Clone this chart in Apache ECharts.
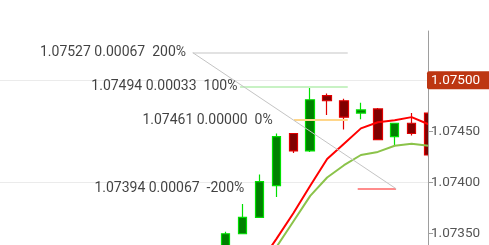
<!DOCTYPE html>
<html><head><meta charset="utf-8">
<script src="https://cdn.jsdelivr.net/npm/echarts@6/dist/echarts.min.js"></script>
<style>html,body{margin:0;padding:0;background:#fff}#c{width:489px;height:245px}</style>
</head><body><div id="c"></div>
<script>
// ---- data ----
const candleIdx = [0,1,2,3,4,5,6,7,8,9,10,11,12];
const opens  = [1.07330,1.07350,1.07366,1.07397,1.07448,1.07431,1.07485,1.07480,1.07468,1.07472,1.07445,1.07458,1.07468];
const closes = [1.07350,1.07366,1.07401,1.07445,1.07431,1.07481,1.07480,1.07464,1.07471,1.07442,1.07458,1.07448,1.07427];
const lows   = [1.07322,1.07350,1.07366,1.07386,1.07429,1.07430,1.07466,1.07452,1.07462,1.07442,1.07436,1.07446,1.07425];
const highs  = [1.07352,1.07379,1.07408,1.07448,1.07448,1.07494,1.07487,1.07482,1.07478,1.07473,1.07458,1.07468,1.07470];
const maFast = [1.07280,1.07300,1.07321,1.07345,1.07370,1.07397,1.07423,1.07438,1.07453,1.07459,1.07461,1.07464,1.07457];
const maSlow = [1.07270,1.07290,1.07312,1.07337,1.07362,1.07387,1.07405,1.07417,1.07427,1.07430,1.07436,1.07438,1.07436];
const yTickValues = [1.0735,1.0740,1.0745,1.0750];
const gridValues = [1.0740,1.0750];
const lastPrice = 1.07500;
const fibLevels = [1.07527,1.07494,1.07461,1.07394];
const fibDiffs  = ['0.00067','0.00033','0.00000','0.00067'];
const fibPcts   = ['200%','100%','0%','-200%'];
const fibStart = [-1.95, 1.07527];
const fibEnd   = [10.08, 1.07394];

// ---- layout / style ----
const W = 489, H = 245, GRID_RIGHT = 61, GRID_TOP = 31;
const X_MIN = -13.36, X_MAX = 11.97;
const Y_MIN = 1.07339, Y_MAX = 1.075482;
const fibSpans = [[-1.95,7.22],[0.85,7.22],[4.04,7.22],[7.81,10.08]];
const fibLabelX = [-2.35,0.69,2.78,1.10];
const fibColors = ['#d9d9d9','#c8f2c4','#ffd68a','#ff8c8c'];
const fibWidths = [1.5,2,2,2];
const GRID_COLOR = '#ebebeb';

const chart = echarts.init(document.getElementById('c'), null, {renderer:'canvas'});
const fmt = v => Number(v).toFixed(5);

const fibMarkData = fibLevels.map((lv,i)=>[
  {coord:[fibSpans[i][0], lv], lineStyle:{color:fibColors[i], width:fibWidths[i], type:'solid'}},
  {coord:[fibSpans[i][1], lv]}
]);
fibMarkData.push([
  {coord:fibStart, lineStyle:{color:'#c4c4c4', width:1, type:'solid'}},
  {coord:fibEnd}
]);

const gridMarkData = gridValues.map(v=>[
  {coord:[X_MIN, v], lineStyle:{color:GRID_COLOR,width:1,type:'solid'}, label:{show:false}},
  {coord:[X_MAX, v]}
]);
const priceMarkData = [[
  {coord:[X_MIN, lastPrice], lineStyle:{color:'transparent',width:1,type:'solid'},
   label:{show:true,position:'end',distance:-1,formatter:fmt(lastPrice),
     color:'#fff',fontSize:13.5,fontFamily:'Roboto',backgroundColor:'#bd3612',
     padding:[2,12,1,4],lineHeight:15,borderRadius:2}},
  {coord:[X_MAX, lastPrice]}
]];

chart.setOption({
  animation:false,
  backgroundColor:'#ffffff',
  textStyle:{fontFamily:'Roboto'},
  grid:{left:0,right:GRID_RIGHT,top:GRID_TOP,bottom:0,containLabel:false,outerBoundsMode:'none'},
  xAxis:{type:'value',min:X_MIN,max:X_MAX,show:false},
  yAxis:{
    type:'value',position:'right',min:Y_MIN,max:Y_MAX,scale:true,z:20,
    axisLine:{show:true,onZero:false,lineStyle:{color:'#9e9e9e',width:1}},
    axisTick:{show:true,length:5,customValues:yTickValues,lineStyle:{color:'#9e9e9e'}},
    axisLabel:{customValues:yTickValues,formatter:fmt,color:'#555',fontSize:13.5,fontFamily:'Roboto',margin:3},
    splitLine:{show:false}
  },
  graphic:[{
    type:'rect',silent:true,z:10,
    shape:{x:W-GRID_RIGHT,y:0,width:GRID_RIGHT,height:H},
    style:{fill:'#ffffff'}
  }],
  series:[
    {
      type:'line',data:[],z:1,silent:true,
      markLine:{z:1,silent:true,symbol:'none',animation:false,data:gridMarkData}
    },
    {
      type:'candlestick',z:2,
      data:candleIdx.map((x,i)=>[x,opens[i],closes[i],lows[i],highs[i]]),
      encode:{x:0,y:[1,2,3,4]},
      barWidth:9,
      itemStyle:{color:'#008000',color0:'#800000',borderColor:'#00e000',borderColor0:'#e00000',borderWidth:1.2}
    },
    {
      type:'line',z:3,showSymbol:false,symbol:'none',
      data:candleIdx.map((x,i)=>[x,maSlow[i]]),
      lineStyle:{color:'#8bc34a',width:2}
    },
    {
      type:'line',z:3,showSymbol:false,symbol:'none',
      data:candleIdx.map((x,i)=>[x,maFast[i]]),
      lineStyle:{color:'#ff0000',width:2}
    },
    {
      type:'line',data:[],z:4,silent:true,
      markLine:{z:5,silent:true,symbol:'none',animation:false,label:{show:false},data:fibMarkData}
    },
    {
      type:'scatter',z:6,symbolSize:0,silent:true,clip:false,
      data:fibLevels.map((lv,i)=>[fibLabelX[i],lv,fmt(lv)+' '+fibDiffs[i]+'  '+fibPcts[i]]),
      label:{show:true,position:'left',distance:0,formatter:p=>p.value[2],
        color:'#111',fontSize:14,fontFamily:'Roboto'}
    },
    {
      type:'line',data:[],z:30,silent:true,
      markLine:{z:30,silent:true,symbol:'none',animation:false,data:priceMarkData}
    }
  ]
});
</script></body></html>
